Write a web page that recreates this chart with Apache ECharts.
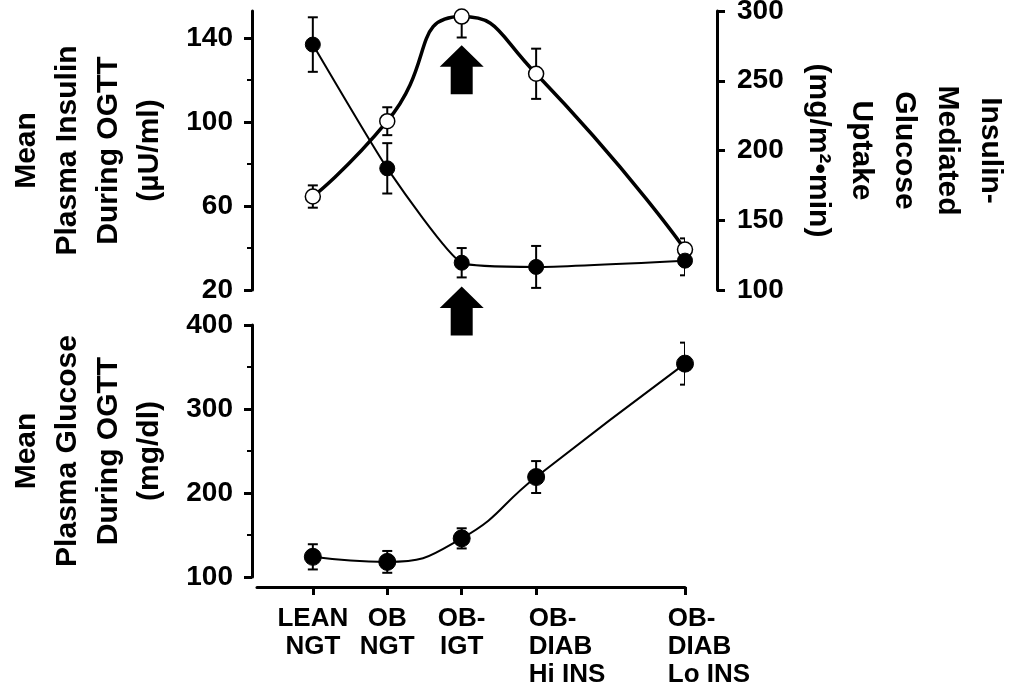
<!DOCTYPE html>
<html><head><meta charset="utf-8">
<script src="https://cdn.jsdelivr.net/npm/echarts@6/dist/echarts.min.js"></script>
<style>html,body{margin:0;padding:0;background:#fff}#c{width:1010px;height:690px}</style>
</head><body><div id="c"></div>
<script>
// ---- data ----
const categories = ['LEAN\nNGT', 'OB\nNGT', 'OB-\nIGT', 'OB-\nDIAB\nHi INS', 'OB-\nDIAB\nLo INS'];
const xPositions = [0, 1, 2, 3, 5];
const insulin = [137, 78, 33, 31, 34];
const insulinErr = [13, 12, 7, 10, 7];
const uptake = [167, 221, 296, 255, 129];
const uptakeErr = [8, 10, 15, 18, 8];
const glucose = [124, 118, 146, 219, 354];
const glucoseErr = [15, 13, 12, 19, 25];
const insulinTicks = [20, 60, 100, 140];
const insulinMinor = [40, 80, 120];
const uptakeTicks = [100, 150, 200, 250, 300];
const glucoseTicks = [100, 200, 300, 400];
const glucoseMinor = [150, 250, 350];
const arrowMarks = [[2, 125], [2, 10]];

const FONT = 'Liberation Sans';
const BLACK = '#000';

function pts(vals) { return xPositions.map((x, i) => [x, vals[i]]); }

function errSeries(vals, errs, xi, yi) {
  return {
    type: 'custom', xAxisIndex: xi, yAxisIndex: yi, clip: true, z: 1, silent: true,
    data: xPositions.map((x, i) => [x, vals[i] - errs[i], vals[i] + errs[i]]),
    renderItem(params, api) {
      const lo = api.coord([api.value(0), api.value(1)]);
      const hi = api.coord([api.value(0), api.value(2)]);
      const w = 5, st = { stroke: BLACK, lineWidth: 2 };
      return { type: 'group', children: [
        { type: 'line', shape: { x1: lo[0], y1: lo[1], x2: hi[0], y2: hi[1] }, style: st },
        { type: 'line', shape: { x1: lo[0] - w, y1: lo[1], x2: lo[0] + w, y2: lo[1] }, style: st },
        { type: 'line', shape: { x1: hi[0] - w, y1: hi[1], x2: hi[0] + w, y2: hi[1] }, style: st }
      ]};
    }
  };
}

const axisLineStyle = { show: true, onZero: false, lineStyle: { color: BLACK, width: 3 } };
const hiddenLine = { show: false, onZero: false };
const labelStyle = { color: BLACK, fontSize: 28, fontWeight: 'bold', fontFamily: FONT };
const nameStyle = { color: BLACK, fontSize: 30, fontWeight: 'bold', fontFamily: FONT, lineHeight: 41, align: 'center' };

const chart = echarts.init(document.getElementById('c'), null, { renderer: 'canvas' });
chart.setOption({
  animation: false,
  backgroundColor: '#fff',
  textStyle: { fontFamily: FONT, fontWeight: 'bold', color: BLACK },
  grid: [
    { left: 257, right: 325, top: 11, height: 279, outerBoundsMode: 'none', containLabel: false },
    { left: 257, right: 325, top: 325, height: 252, outerBoundsMode: 'none', containLabel: false }
  ],
  xAxis: [
    { gridIndex: 0, type: 'value', min: -0.75, max: 5, show: false, axisLine: hiddenLine },
    { gridIndex: 1, type: 'value', min: -0.75, max: 5, offset: 10,
      axisLine: axisLineStyle,
      axisTick: { show: true, customValues: xPositions, length: 8, lineStyle: { color: BLACK, width: 3 } },
      splitLine: { show: false },
      axisLabel: {
        customValues: xPositions, margin: 18, color: BLACK, fontSize: 26, fontWeight: 'bold',
        fontFamily: FONT, lineHeight: 28, align: 'center', verticalAlign: 'top',
        formatter: function (v) {
          const i = xPositions.indexOf(v);
          if (i < 0) return '';
          const lines = categories[i].split('\n');
          if (i === 3) return lines.map(l => '{hi|' + l + '}').join('\n');
          if (i === 4) return lines.map(l => '{lo|' + l + '}').join('\n');
          return lines.map(l => '{c|' + l + '}').join('\n');
        },
        rich: {
          c: { fontSize: 26, fontWeight: 'bold', fontFamily: FONT, color: BLACK, lineHeight: 28, align: 'center' },
          hi: { fontSize: 26, fontWeight: 'bold', fontFamily: FONT, color: BLACK, lineHeight: 28, align: 'left', padding: [0, 0, 0, 62] },
          lo: { fontSize: 26, fontWeight: 'bold', fontFamily: FONT, color: BLACK, lineHeight: 28, align: 'left', padding: [0, 0, 0, 48] }
        }
      }
    }
  ],
  yAxis: [
    { gridIndex: 0, type: 'value', position: 'left', offset: 5, min: 20, max: 153,
      axisLine: axisLineStyle, splitLine: { show: false },
      axisTick: { show: true, customValues: insulinTicks, length: 8, lineStyle: { color: BLACK, width: 3 } },
      axisLabel: Object.assign({ customValues: insulinTicks, margin: 19 }, labelStyle),
      name: 'Mean\nPlasma Insulin\nDuring OGTT\n(µU/ml)', nameLocation: 'middle', nameRotate: 90,
      nameGap: 82, nameTextStyle: nameStyle, nameMoveOverlap: false },
    { gridIndex: 0, type: 'value', position: 'left', offset: 5, min: 20, max: 153,
      axisLine: hiddenLine, splitLine: { show: false }, axisLabel: { show: false },
      axisTick: { show: true, customValues: insulinMinor, length: 5, lineStyle: { color: BLACK, width: 2 } } },
    { gridIndex: 0, type: 'value', position: 'right', offset: 32, min: 100, max: 300,
      axisLine: axisLineStyle, splitLine: { show: false },
      axisTick: { show: true, customValues: uptakeTicks, length: 8, lineStyle: { color: BLACK, width: 3 } },
      axisLabel: Object.assign({ customValues: uptakeTicks, margin: 20 }, labelStyle),
      name: 'Insulin-\nMediated\nGlucose\nUptake\n(mg/m²•min)', nameLocation: 'middle', nameRotate: -90,
      nameGap: 80, nameTextStyle: Object.assign({}, nameStyle, { lineHeight: 43 }), nameMoveOverlap: false },
    { gridIndex: 1, type: 'value', position: 'left', offset: 5, min: 100, max: 400,
      axisLine: axisLineStyle, splitLine: { show: false },
      axisTick: { show: true, customValues: glucoseTicks, length: 8, lineStyle: { color: BLACK, width: 3 } },
      axisLabel: Object.assign({ customValues: glucoseTicks, margin: 19 }, labelStyle),
      name: 'Mean\nPlasma Glucose\nDuring OGTT\n(mg/dl)', nameLocation: 'middle', nameRotate: 90,
      nameGap: 82, nameTextStyle: nameStyle, nameMoveOverlap: false },
    { gridIndex: 1, type: 'value', position: 'left', offset: 5, min: 100, max: 400,
      axisLine: hiddenLine, splitLine: { show: false }, axisLabel: { show: false },
      axisTick: { show: true, customValues: glucoseMinor, length: 5, lineStyle: { color: BLACK, width: 2 } } }
  ],
  series: [
    errSeries(uptake, uptakeErr, 0, 2),
    errSeries(insulin, insulinErr, 0, 0),
    errSeries(glucose, glucoseErr, 1, 3),
    { type: 'line', name: 'Uptake', xAxisIndex: 0, yAxisIndex: 2, data: pts(uptake), smooth: 0.6, z: 2,
      symbol: 'circle', symbolSize: 15, silent: true,
      lineStyle: { color: BLACK, width: 3.5 },
      itemStyle: { color: '#fff', borderColor: BLACK, borderWidth: 1.5, opacity: 1 } },
    { type: 'line', name: 'Insulin', xAxisIndex: 0, yAxisIndex: 0, data: pts(insulin), smooth: 0.15, z: 3,
      symbol: 'circle', symbolSize: 15, silent: true,
      lineStyle: { color: BLACK, width: 2 },
      itemStyle: { color: BLACK, borderColor: BLACK, borderWidth: 1, opacity: 1 } },
    { type: 'scatter', name: 'Arrows', xAxisIndex: 0, yAxisIndex: 0, data: arrowMarks, clip: false, z: 4,
      silent: true,
      symbol: 'path://M22 0 L44 22 L33 22 L33 50 L11 50 L11 22 L0 22 Z',
      symbolSize: [44, 49], symbolKeepAspect: false,
      itemStyle: { color: BLACK, opacity: 1 } },
    { type: 'line', name: 'Glucose', xAxisIndex: 1, yAxisIndex: 3, data: pts(glucose), smooth: 0.5, z: 3,
      symbol: 'circle', symbolSize: 17, silent: true,
      lineStyle: { color: BLACK, width: 2 },
      itemStyle: { color: BLACK, borderColor: BLACK, borderWidth: 1, opacity: 1 } }
  ]
});
</script></body></html>
